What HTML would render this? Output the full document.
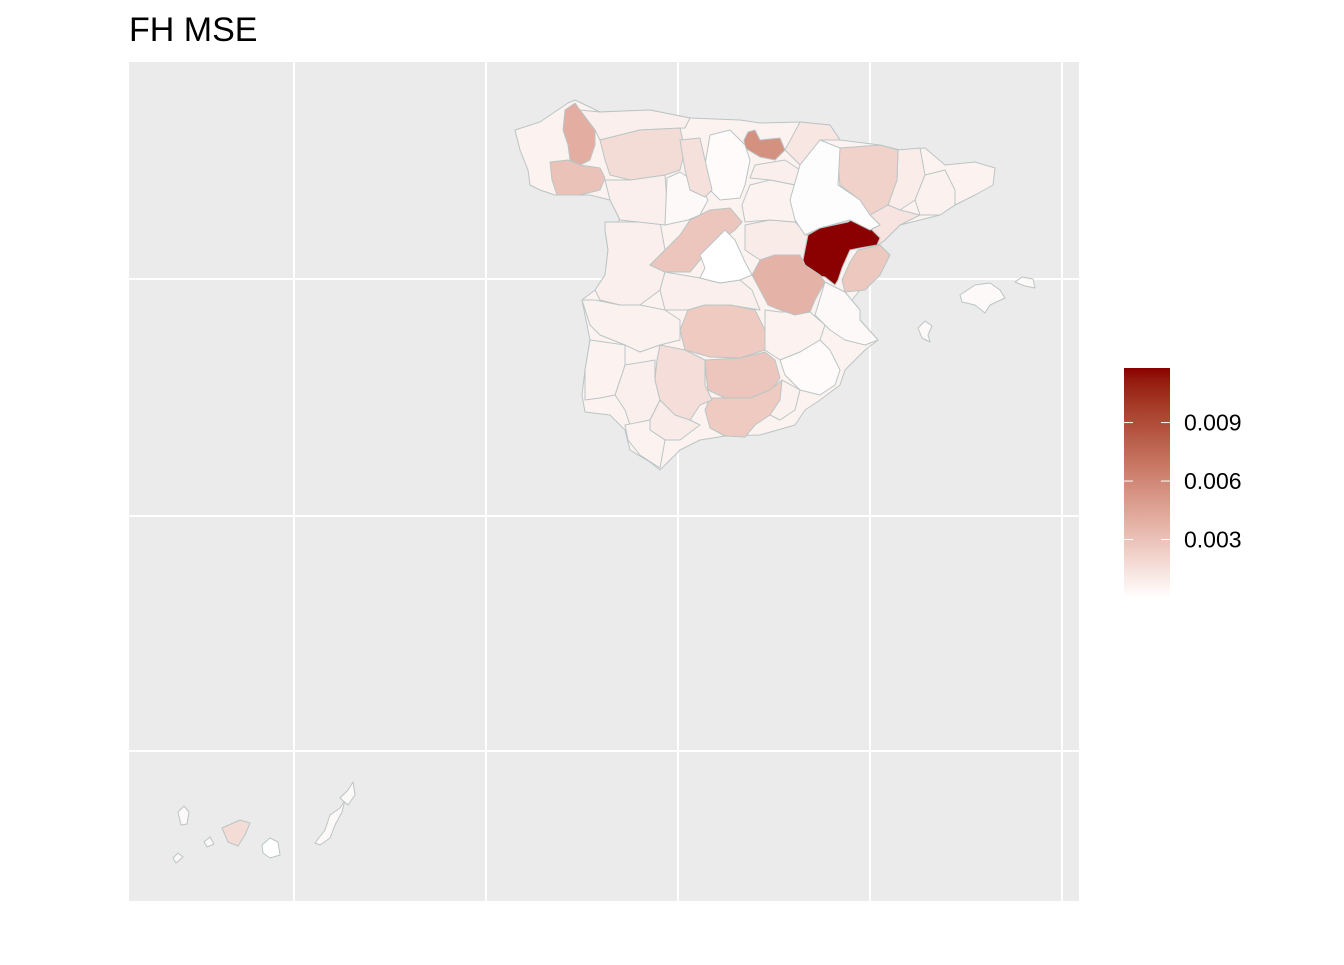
<!DOCTYPE html>
<html><head><meta charset="utf-8"><style>
body{margin:0;background:#fff;width:1344px;height:960px;overflow:hidden;font-family:"Liberation Sans",Arial,sans-serif}
</style></head><body>
<svg id="chart" width="1344" height="960" xmlns="http://www.w3.org/2000/svg">
<text x="129" y="41" font-size="34" fill="#000">FH MSE</text>
<rect x="129" y="62" width="950" height="839" fill="#EBEBEB"/>
<g id="grid" stroke="#fff" stroke-width="2">
<line x1="294" y1="62" x2="294" y2="901"/><line x1="486" y1="62" x2="486" y2="901"/>
<line x1="678" y1="62" x2="678" y2="901"/><line x1="870" y1="62" x2="870" y2="901"/>
<line x1="1062" y1="62" x2="1062" y2="901"/>
<line x1="129" y1="279" x2="1079" y2="279"/><line x1="129" y1="516" x2="1079" y2="516"/>
<line x1="129" y1="751" x2="1079" y2="751"/>
</g>
<g id="map"></g>
<defs><linearGradient id="lg" x1="0" y1="1" x2="0" y2="0"></linearGradient></defs>
<rect x="1124" y="368" width="46" height="230" fill="url(#lg)"/>
<g id="legend"></g>
</svg>
<script>
const provinces=["peninsula","Caceres","Badajoz","Toledo","Albacete","Valencia","Murcia","Sevilla","Huelva","Asturias","Navarra","La Rioja","Guadalajara","Soria","Lleida","Tarragona","Barcelona","Malaga","Almeria","Cadiz","Zamora-Salamanca","Teruel","Cuenca","Lugo","Ourense","Alava","Castellon","Huesca","Avila-Segovia","Ciudad Real","Jaen","Granada","Cordoba","Madrid","Burgos","Zaragoza","Valladolid","Leon","Palencia","Tenerife","Gran Canaria","Fuerteventura","Lanzarote","La Palma","Gomera","Hierro","Mallorca","Menorca","Ibiza"];
const mseValues=[0.0006,0.0008,0.0007,0.0008,0.0006,0.0003,0.0002,0.0008,0.0006,0.0008,0.0012,0.0008,0.0010,0.0006,0.0009,0.0013,0.0007,0.0010,0.0007,0.0006,0.0008,0.0118,0.0038,0.0040,0.0030,0.0055,0.0027,0.0022,0.0028,0.0026,0.0028,0.0026,0.0016,0.0000,0.0002,0.0001,0.0003,0.0017,0.0015,0.0017,0.0000,0.0003,0.0003,0.0003,0.0003,0.0003,0.0003,0.0003,0.0003];
const legendTicks=[0.003,0.006,0.009];
const legendLabels=["0.003","0.006","0.009"];
const scaleMin=0, scaleMax=0.0118;

const shapes=[
"515,130 540,122 568,103 575,100 600,112 650,110 690,118 740,120 760,123 800,122 830,125 840,140 880,145 900,150 925,148 945,165 975,162 995,168 993,185 975,195 955,205 940,215 900,225 885,240 878,245 870,260 860,290 852,300 860,320 878,340 865,350 845,370 840,385 820,400 805,410 795,425 760,435 725,436 700,440 680,450 665,465 660,470 650,462 630,450 625,430 610,415 585,412 582,395 585,370 590,340 582,300 595,290 605,275 608,250 605,230 620,220 610,200 590,195 555,195 540,190 530,185 528,170 520,150",
"605,222 660,222 665,250 650,265 665,272 660,290 640,305 620,305 600,300 595,290 605,275 608,250 605,230",
"595,300 620,305 640,305 665,310 680,320 680,340 660,345 640,352 625,345 600,335 590,325 582,300",
"665,272 700,278 720,283 740,280 752,290 760,310 730,305 705,305 688,310 665,310 660,290",
"765,310 780,312 810,312 825,325 820,340 800,352 780,360 765,350 765,330",
"825,282 845,292 860,310 860,320 878,340 865,345 845,340 830,330 815,315",
"780,360 800,352 820,340 830,350 840,370 835,385 820,395 800,390 785,375",
"625,365 655,360 655,380 660,400 650,420 630,425 625,410 615,395 620,380",
"590,340 625,345 625,365 620,380 615,395 600,398 585,400 585,370",
"580,110 600,112 650,110 690,118 685,128 640,130 600,140 595,130",
"800,122 830,125 840,140 820,140 800,165 785,150",
"755,165 785,160 800,170 795,185 770,180 750,178",
"745,225 770,220 795,222 808,235 803,260 775,255 760,260 745,250",
"750,185 770,180 795,185 800,200 795,222 770,220 745,222 742,205",
"898,150 920,148 925,175 915,200 900,210 888,205 897,180",
"888,205 900,210 920,215 900,225 885,240 878,245 870,230 880,225 870,215",
"925,175 945,170 955,190 955,205 940,215 920,215 915,200",
"660,400 690,420 700,425 680,440 665,440 650,430 650,420",
"770,392 782,380 800,390 795,410 780,420 770,415",
"625,425 650,420 650,430 665,440 660,468 640,455 628,440",
"605,180 630,180 665,175 667,200 665,225 620,220 610,200",
"808,235 820,228 848,222 855,218 870,228 880,238 877,245 860,248 850,250 842,268 838,280 835,285 825,277 815,275 805,265 803,260",
"760,260 775,255 800,255 805,265 820,275 825,282 815,300 810,312 795,315 780,310 768,305 760,290 752,275",
"565,110 575,103 580,110 595,130 595,145 590,160 580,165 570,160 568,145 563,130",
"550,162 568,160 580,165 600,168 605,178 600,190 580,195 557,195 552,180",
"748,132 755,130 760,140 780,138 785,150 775,160 760,157 745,148 744,140",
"858,250 880,245 890,255 880,275 865,290 845,292 842,280 850,262",
"840,148 880,145 898,150 897,180 888,205 870,215 860,200 840,185 838,165",
"690,220 710,210 730,208 742,222 735,230 715,245 700,260 690,272 665,272 650,265 665,250 680,235",
"688,310 705,305 730,305 755,310 765,330 765,350 740,358 710,357 685,350 680,330",
"705,360 740,358 765,352 775,360 780,378 770,392 750,398 725,398 708,390 706,375",
"710,398 750,398 770,390 782,380 780,400 770,415 755,425 745,437 725,436 710,428 705,410",
"660,345 685,350 705,360 705,385 712,400 700,405 690,420 675,415 660,400 655,380 657,360",
"700,255 725,230 735,240 745,262 752,275 740,280 720,283 700,278 705,268",
"710,135 730,130 745,145 750,160 745,185 740,198 720,200 710,190 705,165",
"800,165 820,140 840,148 838,185 860,200 870,215 880,225 870,230 850,220 820,228 805,235 795,220 790,200",
"667,178 680,172 700,185 708,200 700,215 688,220 665,225",
"600,140 640,130 680,128 685,150 680,170 665,175 630,180 610,175 605,160",
"680,140 700,138 705,160 712,190 705,197 690,190 685,170",
"222,828 240,820 250,823 245,835 238,846 228,842",
"262,845 270,838 278,842 280,855 270,858 263,853",
"315,843 325,830 330,815 340,808 345,800 342,812 335,825 330,838 320,845",
"340,798 348,790 353,782 355,795 348,805",
"178,812 184,806 189,812 187,824 181,825",
"204,842 210,837 214,844 207,847",
"173,858 178,853 183,857 176,863",
"960,295 975,285 990,283 1000,290 1005,298 990,305 985,313 975,305 962,302",
"1015,282 1022,277 1033,279 1035,288 1025,286",
"918,328 925,321 932,326 928,335 930,342 922,338"
];

function lab(rgb){
  const f=c=>{c/=255;return c>0.04045?Math.pow((c+0.055)/1.055,2.4):c/12.92};
  let r=f(rgb[0]),g=f(rgb[1]),b=f(rgb[2]);
  let X=(r*0.4124+g*0.3576+b*0.1805)/0.95047,Y=r*0.2126+g*0.7152+b*0.0722,Z=(r*0.0193+g*0.1192+b*0.9505)/1.08883;
  const h=t=>t>0.008856?Math.cbrt(t):7.787*t+16/116;
  X=h(X);Y=h(Y);Z=h(Z);
  return [116*Y-16,500*(X-Y),200*(Y-Z)];
}
function rgbFromLab(L){
  let Y=(L[0]+16)/116,X=L[1]/500+Y,Z=Y-L[2]/200;
  const h=t=>t*t*t>0.008856?t*t*t:(t-16/116)/7.787;
  X=h(X)*0.95047;Y=h(Y);Z=h(Z)*1.08883;
  let r=X*3.2406+Y*-1.5372+Z*-0.4986,g=X*-0.9689+Y*1.8758+Z*0.0415,b=X*0.0557+Y*-0.2040+Z*1.0570;
  const f=c=>{c=c>0.0031308?1.055*Math.pow(c,1/2.4)-0.055:12.92*c;return Math.max(0,Math.min(255,Math.round(c*255)))};
  return `rgb(${f(r)},${f(g)},${f(b)})`;
}
const LO=lab([255,255,255]),HI=lab([139,0,0]);
function color(v){let t=(v-scaleMin)/(scaleMax-scaleMin);t=Math.max(0,Math.min(1,t));return rgbFromLab(LO.map((a,i)=>a+(HI[i]-a)*t));}

const NS="http://www.w3.org/2000/svg";
const map=document.getElementById('map');
provinces.forEach((p,i)=>{
  const el=document.createElementNS(NS,'polygon');
  el.setAttribute('points',shapes[i]);
  el.setAttribute('fill',color(mseValues[i]));
  el.setAttribute('stroke','#BAC5C5');
  el.setAttribute('stroke-width','1');
  el.setAttribute('stroke-linejoin','round');
  
  
  map.appendChild(el);
});

const lg=document.getElementById('lg');
for(let k=0;k<=20;k++){
  const s=document.createElementNS(NS,'stop');
  s.setAttribute('offset',(k/20));
  s.setAttribute('stop-color',color(scaleMin+(scaleMax-scaleMin)*k/20));
  lg.appendChild(s);
}
const barTop=368,barBot=598;
const ly=v=>barBot-(v-scaleMin)/(scaleMax-scaleMin)*(barBot-barTop);
const leg=document.getElementById('legend');
legendTicks.forEach((v,i)=>{
  const y=ly(v);
  [[1124,1133],[1161,1170]].forEach(([a,b])=>{
    const l=document.createElementNS(NS,'line');
    l.setAttribute('x1',a);l.setAttribute('x2',b);l.setAttribute('y1',y);l.setAttribute('y2',y);
    l.setAttribute('stroke','#fff');l.setAttribute('stroke-width','1');
    
    
    leg.appendChild(l);
  });
  const t=document.createElementNS(NS,'text');
  t.setAttribute('x',1184);t.setAttribute('y',y+8);t.setAttribute('font-size','23');t.setAttribute('fill','#000');
  t.textContent=legendLabels[i];
  
  
  leg.appendChild(t);
});
</script>
</body></html>
